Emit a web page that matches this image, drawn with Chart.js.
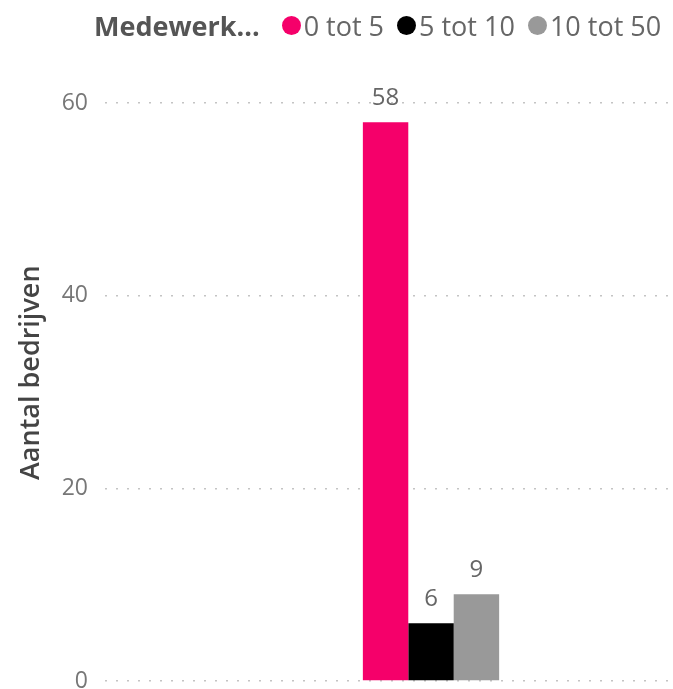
<!DOCTYPE html>
<html>
<head>
<meta charset="utf-8">
<script src="https://cdn.jsdelivr.net/npm/chart.js@4"></script>
<style>
  html, body { margin: 0; padding: 0; background: #fff; overflow: hidden; }
  #wrap { position: relative; width: 673px; height: 689px; overflow: hidden; }
  #chart { position: absolute; left: 0; top: 0; }
  #legend { position: absolute; left: 94px; top: 7px; height: 36px; display: flex; align-items: center;
            font-family: "Open Sans", sans-serif; font-size: 27px; color: #666; white-space: nowrap; }
  #legend .ttl { font-weight: 700; color: #555; margin-right: 22px; }
  #legend .itm { display: flex; align-items: center; margin-right: 13px; }
  #legend .dot { width: 19px; height: 19px; border-radius: 50%; margin-right: 3px; }
</style>
</head>
<body>
<div id="wrap">
  <canvas id="chart" width="760" height="689"></canvas>
  <div id="legend"></div>
</div>
<script>
// number of companies per employee-size class
const categories = ['Bedrijven'];
const seriesNames = ['0 tot 5', '5 tot 10', '10 tot 50'];
const seriesValues = [[58], [6], [9]];
const seriesColors = ['#f5006a', '#000000', '#999999'];
const yTicks = [0, 20, 40, 60];
const legendTitle = 'Medewerk...';
const yTitle = 'Aantal bedrijven';

const FONT = '"Open Sans", sans-serif';

// legend row (title + round markers) as html
const lg = document.getElementById('legend');
lg.innerHTML = `<span class="ttl">${legendTitle}</span>` + seriesNames.map((n, i) =>
  `<span class="itm"><span class="dot" style="background:${seriesColors[i]}"></span>${n}</span>`).join('');

// value labels above each bar
const barLabels = {
  id: 'barLabels',
  afterDatasetsDraw(chart) {
    const ctx = chart.ctx;
    ctx.save();
    ctx.font = '24px ' + FONT;
    ctx.fillStyle = '#666';
    ctx.textAlign = 'center';
    ctx.textBaseline = 'alphabetic';
    chart.data.datasets.forEach((ds, di) => {
      chart.getDatasetMeta(di).data.forEach((bar, i) => {
        ctx.fillText(ds.data[i], bar.x, bar.y - 17);
      });
    });
    ctx.restore();
  }
};

new Chart(document.getElementById('chart'), {
  type: 'bar',
  data: {
    labels: categories,
    datasets: seriesNames.map((n, i) => ({
      label: n,
      data: seriesValues[i],
      backgroundColor: seriesColors[i],
      borderWidth: 0,
      categoryPercentage: 0.209,
      barPercentage: 1
    }))
  },
  options: {
    responsive: false,
    animation: false,
    layout: { padding: { top: 64.5, bottom: 8, left: 0, right: 3 } },
    plugins: { legend: { display: false }, tooltip: { enabled: false } },
    scales: {
      x: { display: false },
      y: {
        min: 0,
        max: 64,
        afterBuildTicks: axis => { axis.ticks = yTicks.map(v => ({ value: v })); },
        afterFit: axis => {
          axis.width = 105;
          // let the "0" label hang below the plot instead of shrinking it
          axis.paddingTop = 0;
          axis.paddingBottom = 0;
        },
        border: { display: false, dash: [2, 9] },
        grid: { color: '#c4c4c4', lineWidth: 1.5, drawTicks: false },
        ticks: { color: '#777', font: { family: FONT, size: 23 }, padding: 17 },
        title: { display: true, text: yTitle, color: '#444', font: { family: FONT, size: 27, weight: 600 }, padding: { top: 15, bottom: 0 } }
      }
    }
  },
  plugins: [barLabels]
});
</script>
</body>
</html>
